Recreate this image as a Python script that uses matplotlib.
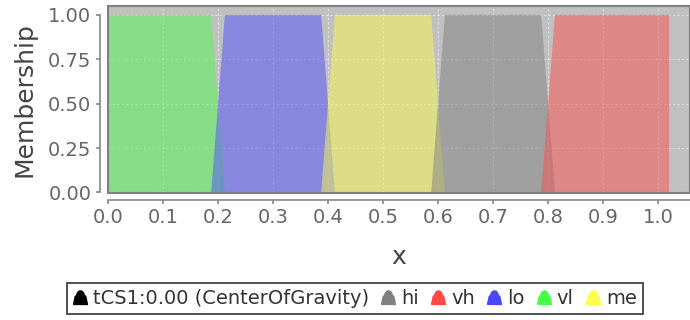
import numpy as np
import matplotlib
matplotlib.use("Agg")
import matplotlib.pyplot as plt
from matplotlib.lines import Line2D
from matplotlib.patches import Rectangle
from matplotlib.path import Path

# membership functions (trapezoids: a, b, c, d)
term_names = ["hi", "vh", "lo", "vl", "me"]
term_hi = [0.5875, 0.6125, 0.7875, 0.8125]
term_vh = [0.7875, 0.8125, 1.02, 1.02]
term_lo = [0.1875, 0.2125, 0.3875, 0.4125]
term_vl = [0.0, 0.0, 0.1875, 0.2125]
term_me = [0.3875, 0.4125, 0.5875, 0.6125]
defuzz_label = "tCS1:0.00 (CenterOfGravity)"

fill_colors = {
    "hi": "#808080",
    "vh": "#fa5050",
    "lo": "#5050fa",
    "vl": "#50fa50",
    "me": "#fafa50",
}
legend_colors = {
    "hi": "#808080",
    "vh": "#ff4848",
    "lo": "#4848ff",
    "vl": "#48ff48",
    "me": "#ffff48",
}

plt.rcParams["font.family"] = ["DejaVu Sans"]

fig = plt.figure(figsize=(6.9, 3.2), dpi=100)
ax = fig.add_axes([108 / 690, 1 - 193 / 320, 582 / 690, 187 / 320])
ax.set_facecolor("#c0c0c0")

terms = {"hi": term_hi, "vh": term_vh, "lo": term_lo, "vl": term_vl, "me": term_me}
for name in ["vl", "lo", "me", "hi", "vh"]:
    a, b, c, d = terms[name]
    xs = [a, a, b, c, d, d]
    ys = [0.0, 0.0 if b > a else 1.0, 1.0, 1.0, 0.0 if d > c else 1.0, 0.0]
    ax.fill(xs, ys, color=fill_colors[name], alpha=0.5, lw=0, zorder=2)

ax.set_xlim(0, 1.058)
ax.set_ylim(-0.003, 1.05)
ax.set_xticks(np.arange(0, 1.05, 0.1))
ax.set_xticklabels(["%.1f" % v for v in np.arange(0, 1.05, 0.1)])
ax.set_yticks([0, 0.25, 0.5, 0.75, 1.0])
ax.set_yticklabels(["0.00", "0.25", "0.50", "0.75", "1.00"])
ax.grid(True, color="white", linestyle=(0, (2, 2)), linewidth=0.8, alpha=0.5, zorder=1)
ax.set_axisbelow(True)

for s in ["top", "right"]:
    ax.spines[s].set_visible(False)
ax.spines["left"].set_position(("outward", 6))
ax.spines["bottom"].set_position(("outward", 5))
ax.spines["left"].set_bounds(0, 1.0)
for s in ["left", "bottom"]:
    ax.spines[s].set_color("#888888")
    ax.spines[s].set_linewidth(1.2)
ax.tick_params(colors="#888888", length=3, width=1.2, labelsize=14, labelcolor="#666666", pad=3)

ax.add_patch(Rectangle((0, 0), 1, 1, transform=ax.transAxes, fill=False,
                       edgecolor="#808080", lw=1.5, clip_on=False, zorder=5))

ax.set_ylabel("Membership", fontsize=18, color="#444444", labelpad=8)
ax.set_xlabel("x", fontsize=18, color="#444444", labelpad=13)

# bell-shaped legend marker: flared base, rounded top
t = np.linspace(0, np.pi, 16)
verts = [(-1.0, -1.0), (-0.75, 0.2)]
verts += [(-0.55 * np.cos(a) - 0.0, 0.2 + 0.75 * np.sin(a)) for a in t]
verts += [(0.75, 0.2), (1.0, -1.0), (-1.0, -1.0)]
bell = Path(verts)

handles = [Line2D([], [], marker=bell, color="black", markersize=10, linestyle="none")]
labels = [defuzz_label]
for name in term_names:
    handles.append(Line2D([], [], marker=bell, color=legend_colors[name], markersize=10, linestyle="none"))
    labels.append(name)

leg = fig.legend(handles, labels, loc="upper left", bbox_to_anchor=(67 / 690, 1 - 283 / 320),
                 ncol=6, fontsize=14, frameon=True, fancybox=False, edgecolor="black",
                 borderaxespad=0, borderpad=0.3, handlelength=0.75, handletextpad=0.3,
                 columnspacing=0.6)
leg.get_frame().set_linewidth(1.2)
for txt in leg.get_texts():
    txt.set_color("#333333")

fig.savefig("out.png", dpi=100)
